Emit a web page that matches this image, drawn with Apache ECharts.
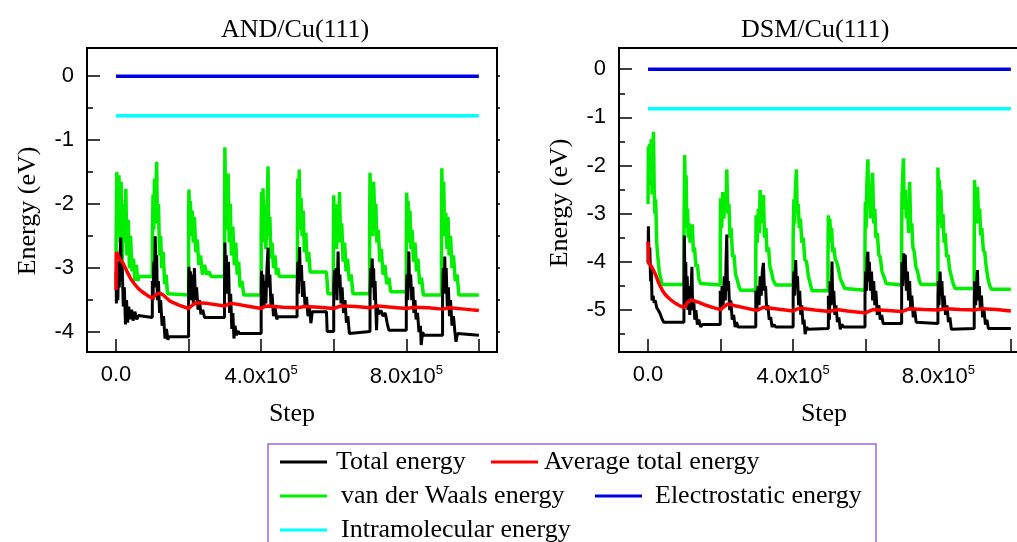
<!DOCTYPE html>
<html>
<head>
<meta charset="utf-8">
<script src="https://cdn.jsdelivr.net/npm/echarts@6/dist/echarts.min.js"></script>
<style>
html, body { margin: 0; padding: 0; background: #fff; }
#main { width: 1017px; height: 542px; }
</style>
</head>
<body>
<div id="main"></div>
<script>
// x: step in units of 1e5, y: energy in eV

// AND/Cu(111)
var andTotal = [
    [0,-3.05],[0.01,-3.55],[0.03,-3.0],[0.05,-3.5],[0.07,-2.9],[0.09,-3.3],[0.11,-2.8],[0.13,-2.52],[0.15,-3.2],[0.17,-2.95],[0.2,-3.6],[0.23,-3.3],[0.26,-3.88],[0.29,-3.5],[0.32,-3.85],[0.35,-3.6],[0.39,-3.8],[0.43,-3.65],[0.47,-3.82],[0.52,-3.68],[0.57,-3.8],[0.62,-3.74],[0.65,-3.77],[1.0,-3.77],
    [1.0,-3.2],[1.02,-3.5],[1.04,-2.9],[1.06,-3.3],[1.08,-2.5],[1.1,-3.1],[1.12,-2.8],[1.14,-3.5],[1.17,-3.2],[1.2,-3.7],[1.23,-3.5],[1.27,-3.9],[1.31,-3.75],[1.35,-4.1],[1.39,-3.95],[1.43,-4.12],[1.46,-4.07],[2.0,-4.07],
    [2.0,-3.3],[2.01,-2.98],[2.03,-3.4],[2.05,-3.05],[2.07,-3.5],[2.1,-3.1],[2.13,-3.55],[2.16,-3.0],[2.19,-3.5],[2.22,-3.3],[2.26,-3.65],[2.3,-3.5],[2.34,-3.72],[2.39,-3.65],[2.44,-3.77],[2.99,-3.77],
    [2.99,-3.3],[3.0,-2.6],[3.02,-3.2],[3.04,-2.8],[3.07,-3.4],[3.1,-2.9],[3.13,-3.7],[3.16,-3.4],[3.19,-3.95],[3.22,-3.7],[3.25,-4.1],[3.28,-3.9],[3.32,-4.05],[3.36,-3.98],[3.4,-4.02],[4.0,-4.02],
    [4.0,-3.4],[4.01,-3.04],[4.03,-3.5],[4.05,-3.1],[4.08,-3.6],[4.1,-3.2],[4.13,-3.55],[4.16,-3.0],[4.19,-2.68],[4.21,-3.3],[4.24,-3.1],[4.27,-3.6],[4.3,-3.4],[4.34,-3.75],[4.38,-3.6],[4.43,-3.8],[4.47,-3.76],[4.99,-3.76],
    [4.99,-3.3],[5.01,-2.9],[5.03,-3.4],[5.06,-2.67],[5.08,-3.2],[5.11,-2.95],[5.14,-3.45],[5.17,-3.2],[5.21,-3.6],[5.25,-3.45],[5.29,-3.75],[5.33,-3.6],[5.37,-3.86],[5.41,-3.68],[5.8,-3.68],[5.82,-3.99],[6.0,-3.99],
    [6.0,-3.3],[6.02,-3.03],[6.04,-3.4],[6.07,-3.0],[6.09,-3.5],[6.12,-2.74],[6.14,-3.3],[6.17,-3.1],[6.2,-3.55],[6.23,-3.3],[6.27,-3.7],[6.31,-3.5],[6.35,-3.85],[6.39,-3.75],[6.43,-4.02],[6.46,-3.99],[7.0,-3.99],
    [7.0,-3.4],[7.02,-3.0],[7.04,-3.3],[7.06,-2.85],[7.08,-3.2],[7.1,-3.0],[7.12,-3.5],[7.14,-3.2],[7.16,-3.6],[7.18,-3.97],[7.2,-3.6],[7.24,-3.72],[7.3,-3.66],[7.36,-3.75],[7.42,-3.7],[7.47,-3.85],[7.52,-3.97],[8.0,-3.97],
    [8.0,-3.4],[8.02,-3.1],[8.04,-3.5],[8.07,-2.74],[8.09,-3.3],[8.12,-3.1],[8.15,-3.5],[8.18,-3.29],[8.21,-3.7],[8.24,-3.5],[8.27,-3.8],[8.31,-3.7],[8.35,-4.0],[8.39,-3.9],[8.41,-4.2],[8.45,-4.0],[8.49,-4.05],[9.0,-4.05],
    [9.0,-3.4],[9.02,-3.0],[9.04,-3.4],[9.06,-2.82],[9.08,-3.3],[9.1,-3.0],[9.13,-3.6],[9.16,-3.3],[9.19,-3.75],[9.22,-3.5],[9.26,-3.9],[9.3,-3.75],[9.34,-4.0],[9.37,-4.15],[9.41,-4.02],[9.45,-4.05],[10.0,-4.05]
];
var andAverage = [
    [0,-3.34],[0.005,-2.75],[0.05,-2.8],[0.1,-2.85],[0.2,-2.93],[0.3,-3.05],[0.4,-3.16],[0.5,-3.24],[0.6,-3.31],[0.7,-3.36],[0.8,-3.4],[0.9,-3.44],[1.0,-3.47],[1.1,-3.41],[1.2,-3.39],[1.3,-3.42],[1.5,-3.52],[1.75,-3.58],[2.0,-3.63],[2.1,-3.58],[2.2,-3.54],[2.5,-3.55],[3.0,-3.59],[3.1,-3.56],[3.2,-3.55],[3.6,-3.59],[4.0,-3.63],[4.1,-3.6],[4.2,-3.59],[4.6,-3.61],[5.0,-3.62],[5.2,-3.6],[5.6,-3.61],[6.0,-3.63],[6.2,-3.59],[6.6,-3.6],[7.0,-3.62],[7.2,-3.59],[7.6,-3.61],[8.0,-3.63],[8.2,-3.61],[8.6,-3.62],[9.0,-3.64],[9.2,-3.62],[9.6,-3.64],[10.0,-3.66]
];
var andVdw = [
    [0,-2.75],[0.02,-1.5],[0.05,-2.3],[0.08,-1.55],[0.11,-2.6],[0.14,-1.65],[0.17,-2.9],[0.21,-2.0],[0.24,-2.6],[0.27,-1.76],[0.3,-2.8],[0.34,-2.25],[0.37,-3.0],[0.4,-2.5],[0.44,-3.05],[0.48,-2.85],[0.52,-3.2],[0.56,-2.95],[0.6,-3.2],[0.64,-3.13],[1.0,-3.13],
    [1.0,-2.6],[1.02,-1.85],[1.04,-2.4],[1.06,-1.6],[1.08,-2.2],[1.1,-1.75],[1.12,-1.34],[1.14,-2.3],[1.17,-2.0],[1.2,-2.8],[1.23,-2.5],[1.26,-3.0],[1.3,-2.75],[1.34,-3.25],[1.38,-3.1],[1.42,-3.4],[1.45,-3.42],[2.0,-3.42],
    [2.0,-2.2],[2.01,-1.77],[2.03,-2.3],[2.05,-1.95],[2.07,-2.5],[2.1,-2.1],[2.13,-2.6],[2.16,-2.2],[2.2,-2.75],[2.24,-2.55],[2.28,-2.95],[2.33,-2.8],[2.38,-3.1],[2.44,-2.95],[2.5,-3.1],[2.56,-3.05],[2.62,-3.13],[2.99,-3.13],
    [2.99,-2.5],[3.0,-1.11],[3.02,-2.2],[3.04,-1.6],[3.06,-2.4],[3.09,-1.52],[3.12,-2.6],[3.15,-2.0],[3.18,-2.8],[3.22,-2.35],[3.26,-2.95],[3.3,-2.6],[3.34,-3.1],[3.38,-2.9],[3.42,-3.3],[3.47,-3.2],[3.52,-3.42],[4.0,-3.42],
    [4.0,-2.5],[4.01,-1.81],[4.03,-2.4],[4.05,-1.75],[4.08,-2.6],[4.1,-2.0],[4.13,-2.7],[4.16,-2.2],[4.19,-1.41],[4.21,-2.5],[4.24,-2.2],[4.27,-2.85],[4.3,-2.6],[4.34,-3.0],[4.38,-2.8],[4.42,-3.1],[4.46,-3.0],[4.5,-3.13],[5.0,-3.13],
    [5.0,-2.4],[5.01,-1.6],[5.03,-2.2],[5.05,-1.46],[5.07,-2.4],[5.1,-1.9],[5.13,-2.5],[5.16,-2.1],[5.19,-2.75],[5.23,-2.45],[5.27,-2.9],[5.31,-2.75],[5.35,-3.06],[5.8,-3.06],[5.84,-3.4],[5.99,-3.4],
    [5.99,-2.6],[6.0,-1.86],[6.02,-2.5],[6.05,-2.1],[6.08,-2.7],[6.1,-2.0],[6.13,-2.6],[6.16,-1.81],[6.19,-2.6],[6.22,-2.3],[6.26,-2.9],[6.3,-2.6],[6.34,-3.05],[6.38,-2.85],[6.43,-3.2],[6.48,-3.1],[6.53,-3.4],[6.99,-3.4],
    [6.99,-2.4],[7.0,-1.51],[7.03,-2.3],[7.05,-1.8],[7.08,-2.5],[7.1,-1.65],[7.13,-2.2],[7.16,-2.0],[7.19,-2.6],[7.23,-2.4],[7.27,-2.9],[7.31,-2.7],[7.36,-3.1],[7.41,-2.95],[7.46,-3.25],[7.52,-3.15],[7.57,-3.37],[8.0,-3.37],
    [8.0,-2.6],[8.01,-1.82],[8.03,-2.3],[8.05,-1.95],[8.08,-2.6],[8.1,-2.1],[8.13,-2.7],[8.16,-2.4],[8.2,-2.9],[8.24,-2.6],[8.28,-3.05],[8.32,-2.85],[8.37,-3.25],[8.42,-3.15],[8.47,-3.42],[8.97,-3.42],
    [8.97,-2.4],[8.98,-1.44],[9.0,-2.2],[9.03,-1.65],[9.06,-2.5],[9.09,-2.14],[9.12,-2.7],[9.15,-2.2],[9.18,-2.8],[9.22,-2.5],[9.26,-3.0],[9.3,-2.8],[9.35,-3.2],[9.4,-3.1],[9.45,-3.42],[10.0,-3.42]
];
var andElec = [[0, 0], [10, 0]];
var andIntra = [[0, -0.62], [10, -0.62]];

// DSM/Cu(111)
var dsmTotal = [
    [0,-4.03],[0.01,-3.26],[0.03,-4.0],[0.05,-3.7],[0.07,-4.4],[0.09,-4.1],[0.11,-4.8],[0.14,-4.7],[0.17,-4.85],[0.2,-4.8],[0.24,-4.95],[0.28,-5.0],[0.33,-5.07],[0.38,-5.17],[0.43,-5.25],[0.99,-5.25],
    [0.99,-4.6],[1.0,-3.45],[1.02,-4.5],[1.04,-4.0],[1.06,-4.9],[1.08,-4.3],[1.1,-5.0],[1.12,-4.5],[1.15,-5.1],[1.18,-4.7],[1.21,-4.1],[1.23,-5.0],[1.26,-4.8],[1.29,-5.2],[1.32,-5.0],[1.36,-5.3],[1.4,-5.2],[1.45,-5.35],[1.5,-5.3],[1.99,-5.3],
    [1.99,-4.6],[2.02,-5.0],[2.04,-4.5],[2.07,-4.9],[2.1,-4.3],[2.13,-4.8],[2.15,-4.0],[2.17,-3.43],[2.19,-4.6],[2.22,-4.4],[2.25,-5.0],[2.28,-4.8],[2.32,-5.2],[2.36,-5.1],[2.4,-5.35],[2.44,-5.25],[2.48,-5.35],[2.97,-5.35],
    [2.97,-4.6],[3.0,-5.0],[3.03,-4.5],[3.06,-4.9],[3.09,-4.3],[3.12,-4.7],[3.15,-4.2],[3.18,-4.02],[3.21,-4.6],[3.24,-4.5],[3.27,-5.0],[3.3,-4.9],[3.34,-5.2],[3.38,-5.15],[3.42,-5.35],[3.47,-5.3],[3.52,-5.35],[4.0,-5.35],
    [4.0,-4.6],[4.02,-4.2],[4.04,-4.7],[4.07,-3.96],[4.09,-4.5],[4.12,-4.3],[4.15,-4.9],[4.18,-4.6],[4.21,-5.1],[4.24,-4.9],[4.27,-5.3],[4.3,-5.2],[4.33,-5.5],[4.37,-5.35],[4.41,-5.4],[4.45,-5.38],[4.97,-5.38],
    [4.97,-4.7],[5.0,-5.2],[5.02,-4.4],[5.05,-4.9],[5.07,-3.99],[5.09,-4.8],[5.12,-4.6],[5.15,-5.1],[5.18,-4.9],[5.22,-5.25],[5.26,-5.15],[5.3,-5.4],[5.34,-5.3],[5.4,-5.35],[5.98,-5.35],
    [5.98,-4.7],[6.0,-4.2],[6.02,-4.6],[6.04,-3.9],[6.06,-3.79],[6.08,-4.4],[6.1,-4.0],[6.13,-4.6],[6.16,-4.2],[6.19,-4.8],[6.22,-4.4],[6.25,-4.9],[6.28,-4.6],[6.32,-5.1],[6.36,-4.9],[6.4,-5.2],[6.44,-5.1],[6.48,-5.28],[6.99,-5.28],
    [6.99,-4.6],[7.0,-4.0],[7.02,-4.5],[7.05,-3.82],[7.07,-4.3],[7.09,-3.85],[7.12,-4.6],[7.15,-4.2],[7.18,-4.8],[7.21,-4.4],[7.24,-5.0],[7.27,-4.7],[7.31,-5.15],[7.35,-5.0],[7.39,-5.25],[7.44,-5.28],[7.99,-5.28],
    [7.99,-4.7],[8.0,-4.4],[8.02,-4.9],[8.05,-4.2],[8.07,-4.7],[8.1,-4.4],[8.13,-5.0],[8.16,-4.7],[8.2,-5.1],[8.24,-4.9],[8.28,-5.25],[8.32,-5.15],[8.36,-5.4],[8.4,-5.38],[8.99,-5.38],
    [8.99,-4.8],[9.0,-4.4],[9.03,-4.9],[9.05,-4.5],[9.08,-4.17],[9.1,-4.8],[9.13,-4.5],[9.16,-5.0],[9.19,-4.7],[9.22,-5.15],[9.26,-5.0],[9.3,-5.3],[9.34,-5.2],[9.38,-5.38],[10.0,-5.38]
];
var dsmAverage = [
    [0,-3.58],[0.01,-3.6],[0.02,-4.03],[0.1,-4.1],[0.2,-4.25],[0.3,-4.45],[0.4,-4.6],[0.5,-4.7],[0.6,-4.77],[0.7,-4.83],[0.8,-4.88],[0.9,-4.92],[1.0,-4.95],[1.1,-4.83],[1.2,-4.79],[1.4,-4.84],[1.6,-4.9],[1.8,-4.95],[2.0,-4.99],[2.1,-4.93],[2.2,-4.87],[2.4,-4.91],[2.7,-4.96],[3.0,-5.01],[3.1,-4.97],[3.2,-4.94],[3.5,-4.97],[4.0,-5.02],[4.1,-4.98],[4.2,-4.96],[4.6,-5.0],[5.0,-5.03],[5.2,-4.99],[5.5,-5.02],[6.0,-5.06],[6.1,-5.02],[6.2,-4.99],[6.6,-5.01],[7.0,-5.03],[7.2,-4.97],[7.6,-4.99],[8.0,-5.0],[8.2,-4.97],[8.6,-4.99],[9.0,-5.0],[9.2,-4.97],[9.6,-4.99],[10.0,-5.02]
];
var dsmVdw = [
    [0,-2.8],[0.01,-1.6],[0.03,-2.4],[0.05,-1.55],[0.07,-2.2],[0.09,-1.45],[0.11,-2.6],[0.13,-1.7],[0.15,-1.3],[0.17,-2.5],[0.19,-3.0],[0.21,-2.7],[0.24,-3.6],[0.27,-3.9],[0.31,-4.2],[0.35,-4.35],[0.39,-4.47],[0.99,-4.47],
    [0.99,-3.5],[1.01,-1.78],[1.03,-2.8],[1.05,-2.2],[1.07,-3.3],[1.09,-2.9],[1.11,-3.5],[1.13,-3.2],[1.16,-3.6],[1.19,-3.4],[1.22,-3.22],[1.25,-3.8],[1.28,-3.7],[1.32,-4.1],[1.36,-4.05],[1.4,-4.35],[1.45,-4.45],[1.5,-4.48],[1.99,-4.48],
    [1.99,-3.6],[2.0,-2.68],[2.03,-3.3],[2.06,-2.55],[2.09,-3.1],[2.12,-2.6],[2.15,-2.9],[2.17,-2.08],[2.2,-3.0],[2.23,-2.8],[2.26,-3.5],[2.29,-3.3],[2.33,-3.9],[2.37,-3.85],[2.41,-4.25],[2.45,-4.35],[2.5,-4.5],[2.55,-4.59],[2.97,-4.59],
    [2.97,-3.8],[2.98,-3.03],[3.01,-3.6],[3.04,-2.9],[3.07,-3.4],[3.09,-2.51],[3.12,-3.2],[3.15,-2.9],[3.18,-2.61],[3.21,-3.5],[3.25,-3.3],[3.28,-3.8],[3.32,-3.7],[3.36,-4.1],[3.4,-4.2],[3.45,-4.38],[3.52,-4.48],[4.0,-4.48],
    [4.0,-3.5],[4.02,-2.7],[4.04,-3.2],[4.06,-2.5],[4.09,-2.08],[4.11,-3.0],[4.14,-2.8],[4.17,-3.3],[4.2,-3.1],[4.24,-3.6],[4.28,-3.5],[4.32,-3.95],[4.37,-4.0],[4.42,-4.3],[4.47,-4.45],[4.52,-4.6],[4.96,-4.6],
    [4.96,-3.9],[4.97,-3.03],[4.99,-3.6],[5.01,-3.1],[5.03,-3.4],[5.06,-3.3],[5.09,-3.8],[5.12,-3.7],[5.16,-3.95],[5.2,-4.0],[5.25,-4.15],[5.3,-4.35],[5.36,-4.45],[5.42,-4.55],[5.46,-4.59],[5.98,-4.59],
    [5.98,-3.6],[5.99,-2.75],[6.01,-3.3],[6.03,-2.4],[6.06,-1.87],[6.08,-2.9],[6.11,-2.6],[6.13,-3.1],[6.16,-2.5],[6.19,-2.15],[6.22,-3.2],[6.25,-2.9],[6.28,-3.5],[6.32,-3.4],[6.36,-3.85],[6.4,-3.9],[6.45,-4.2],[6.5,-4.3],[6.56,-4.45],[6.6,-4.48],[6.99,-4.48],
    [6.99,-3.5],[7.0,-2.6],[7.02,-2.2],[7.04,-1.85],[7.06,-2.9],[7.09,-2.5],[7.12,-3.1],[7.15,-2.8],[7.18,-3.4],[7.21,-2.34],[7.24,-3.3],[7.27,-3.2],[7.3,-3.7],[7.34,-3.8],[7.38,-4.1],[7.43,-4.2],[7.48,-4.4],[7.53,-4.47],[7.99,-4.47],
    [7.99,-3.6],[7.99,-2.04],[8.01,-2.9],[8.03,-2.3],[8.05,-3.2],[8.07,-2.5],[8.1,-3.3],[8.13,-3.0],[8.16,-3.6],[8.19,-3.4],[8.23,-3.9],[8.27,-3.85],[8.31,-4.15],[8.36,-4.3],[8.41,-4.45],[8.46,-4.55],[8.99,-4.55],
    [8.99,-3.7],[9.0,-2.3],[9.02,-3.0],[9.04,-2.6],[9.06,-3.2],[9.08,-2.44],[9.11,-3.1],[9.14,-2.9],[9.17,-3.45],[9.2,-3.3],[9.24,-3.75],[9.28,-3.8],[9.32,-4.1],[9.37,-4.35],[9.42,-4.5],[9.47,-4.57],[10.0,-4.57]
];
var dsmElec = [[0, 0], [10, 0]];
var dsmIntra = [[0, -0.82], [10, -0.82]];

// ticks
var xTicks = [0, 2, 4, 6, 8, 10];
var xLabels = [0, 4, 8];
var andMajor = [0, -1, -2, -3, -4];
var andMinor = [-0.5, -1.5, -2.5, -3.5];
var dsmMajor = [0, -1, -2, -3, -4, -5];
var dsmMinor = [-0.5, -1.5, -2.5, -3.5, -4.5, -5.5];

var names = ['Total energy', 'Average total energy', 'van der Waals energy', 'Electrostatic energy', 'Intramolecular energy'];
var colors = ['#000000', '#ff0000', '#00ee00', '#0000e6', '#00ffff'];

var sansFont = 'Liberation Sans';
var serifFont = 'Liberation Serif';

function xAxisFor(gridIndex) {
    return {
        type: 'value', gridIndex: gridIndex, min: -0.8, max: 10.5,
        name: 'Step', nameLocation: 'middle', nameGap: 49,
        nameTextStyle: { fontFamily: serifFont, fontSize: 26, color: '#000' },
        axisLine: { show: false, onZero: false },
        splitLine: { show: false },
        axisTick: { inside: true, length: 13, customValues: xTicks, lineStyle: { color: '#000', width: 1.5 } },
        axisLabel: {
            customValues: xLabels, margin: 12,
            fontFamily: sansFont, fontSize: 22, color: '#000',
            formatter: function (v) { return v === 0 ? '0.0' : v.toFixed(1) + 'x10{sup|5}'; },
            rich: { sup: { fontFamily: sansFont, fontSize: 13, color: '#000', padding: [0, 0, 12, 0] } }
        }
    };
}

function yAxesFor(gridIndex, min, max, major, minor, namePad) {
    var base = { type: 'value', gridIndex: gridIndex, min: min, max: max, splitLine: { show: false }, axisLine: { show: false, onZero: false } };
    return [
        Object.assign({}, base, {
            position: 'left',
            name: 'Energy (eV)', nameLocation: 'middle', nameGap: 46,
            nameTextStyle: { fontFamily: serifFont, fontSize: 26, color: '#000', padding: namePad },
            axisTick: { inside: true, length: 13, customValues: major, lineStyle: { color: '#000', width: 1.5 } },
            axisLabel: { customValues: major, margin: 13, fontFamily: sansFont, fontSize: 22, color: '#000' }
        }),
        Object.assign({}, base, {
            position: 'left',
            axisTick: { inside: true, length: 6, customValues: minor, lineStyle: { color: '#000', width: 1.5 } },
            axisLabel: { show: false }
        }),
        Object.assign({}, base, {
            position: 'right',
            axisTick: { inside: false, length: 3, customValues: major.concat(minor), lineStyle: { color: '#000', width: 1.5 } },
            axisLabel: { show: false }
        })
    ];
}

function line(idx, data, axisIndex) {
    var widths = [3, 3.5, 3.5, 3.5, 3.5];
    return {
        name: names[idx], type: 'line', data: data,
        xAxisIndex: axisIndex, yAxisIndex: axisIndex * 3,
        showSymbol: false, animation: false,
        lineStyle: { color: colors[idx], width: widths[idx] },
        itemStyle: { color: colors[idx] }
    };
}

function legendAt(idx, left, top, pad) {
    return {
        data: [names[idx]], left: left, top: top, padding: 0,
        icon: 'rect', itemWidth: 47, itemHeight: 3, selectedMode: false,
        textStyle: { fontFamily: serifFont, fontSize: 26, color: '#000', lineHeight: 30, padding: [0, 0, 0, pad] }
    };
}

var myChart = echarts.init(document.getElementById('main'), null, { renderer: 'canvas' });

var option = {
    backgroundColor: '#fff',
    animation: false,
    title: [
        { text: 'AND/Cu(111)', left: 221, top: 17, padding: 0, textStyle: { fontFamily: serifFont, fontSize: 26, fontWeight: 'normal', color: '#000' } },
        { text: 'DSM/Cu(111)', left: 741, top: 17, padding: 0, textStyle: { fontFamily: serifFont, fontSize: 26, fontWeight: 'normal', color: '#000' } }
    ],
    grid: [
        { left: 87, top: 48, width: 410, height: 304, show: true, borderColor: '#000', borderWidth: 2, backgroundColor: 'transparent', outerBoundsMode: 'none' },
        { left: 619, top: 48, width: 410, height: 304, show: true, borderColor: '#000', borderWidth: 2, backgroundColor: 'transparent', outerBoundsMode: 'none' }
    ],
    xAxis: [xAxisFor(0), xAxisFor(1)],
    yAxis: yAxesFor(0, -4.31, 0.44, andMajor, andMinor, [0, 22, 0, 0])
        .concat(yAxesFor(1, -5.87, 0.44, dsmMajor, dsmMinor, [0, 6, 0, 0])),
    legend: [
        legendAt(0, 280, 447, 4),
        legendAt(1, 491, 447, 1),
        legendAt(2, 280, 481, 9),
        legendAt(3, 595, 481, 8),
        legendAt(4, 280, 515, 9)
    ],
    graphic: [{
        type: 'rect', silent: true,
        shape: { x: 268, y: 444, width: 608, height: 120 },
        style: { fill: 'none', stroke: '#a060f0', lineWidth: 1.5 }
    }],
    series: [
        line(2, andVdw, 0), line(0, andTotal, 0), line(1, andAverage, 0), line(3, andElec, 0), line(4, andIntra, 0),
        line(2, dsmVdw, 1), line(0, dsmTotal, 1), line(1, dsmAverage, 1), line(3, dsmElec, 1), line(4, dsmIntra, 1)
    ]
};

myChart.setOption(option);
</script>
</body>
</html>
